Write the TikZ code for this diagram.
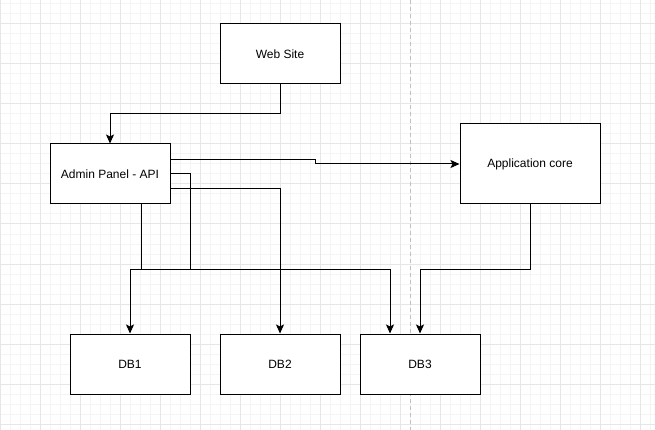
\documentclass[tikz,border=0pt]{standalone}
\usepackage{fontspec}
\setmainfont{Liberation Sans}
\usetikzlibrary{arrows.meta,calc}
\definecolor{gridminor}{HTML}{F4F4F4}
\definecolor{gridmajor}{HTML}{E6E6E6}
\definecolor{divider}{HTML}{C0C0C0}
\tikzset{
  box/.style={draw=black, line width=1pt, fill=white, minimum width=120pt, minimum height=60pt, inner sep=0pt, font=\fontsize{12}{14}\selectfont, text=black},
  conn/.style={draw=black, line width=1pt, -{Stealth[length=9pt,width=8pt,inset=2pt]}},
}
\begin{document}
\begin{tikzpicture}[x=1pt,y=-1pt]
\useasboundingbox (0,0) rectangle (655,430);
\fill[white] (0,0) rectangle (655,430);
% grid
\foreach \i in {0,...,65} {\draw[gridminor,line width=1pt] (\i*10,0) -- (\i*10,430);}
\foreach \j in {0,...,42} {\draw[gridminor,line width=1pt] (0,4+\j*10) -- (655,4+\j*10);}
\foreach \i in {0,...,16} {\draw[gridmajor,line width=1pt] (\i*40,0) -- (\i*40,430);}
\foreach \j in {0,...,10} {\draw[gridmajor,line width=1pt] (0,24+\j*40) -- (655,24+\j*40);}
\draw[divider,line width=1pt,dash pattern=on 4pt off 3pt] (410,0) -- (410,430);
% nodes
\node[box] (web) at (280,54) {Web Site};
\node[box] (admin) at (110,174) {Admin Panel - API};
\node[box, minimum width=140pt, minimum height=80pt] (app) at (530,164) {Application core};
\node[box] (db1) at (130,364) {DB1};
\node[box] (db2) at (280,364) {DB2};
\node[box] (db3) at (420,364) {DB3};
\coordinate (bus) at (0,269);
\coordinate (mid) at (0,114);
% connectors
\draw[conn] (web.south) -- (web.south |- mid) -- (admin.north |- mid) -- (admin.north);
\draw[conn] ([yshift=14pt]admin.east) -- ++(145,0) -- ++(0,4) -- (app.west);
\draw[conn] ([xshift=31pt]admin.south) -- ([xshift=31pt]admin.south |- bus) -- ([xshift=-30pt]db3.north |- bus) -- ([xshift=-30pt]db3.north);
\draw[conn] (admin.east) -- ++(20,0) -- ++(0,95) -- (db1.north |- bus) -- (db1.north);
\draw[conn] ([yshift=-15pt]admin.east) -| (db2.north);
\draw[conn] (app.south) -- (app.south |- bus) -- (db3.north |- bus) -- (db3.north);
\end{tikzpicture}
\end{document}
